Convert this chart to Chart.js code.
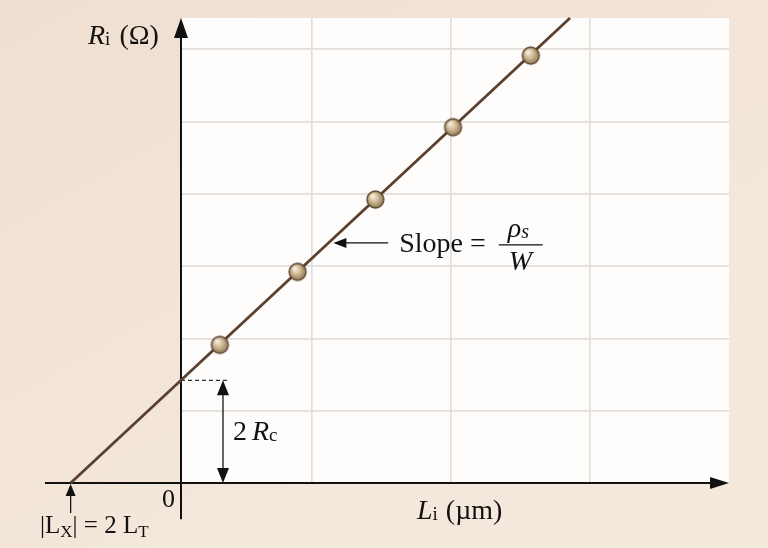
<!DOCTYPE html>
<html>
<head>
<meta charset="utf-8">
<script src="https://cdn.jsdelivr.net/npm/chart.js@4/dist/chart.umd.min.js"></script>
<style>
  html, body { margin: 0; padding: 0; background: #f2e4d7; }
  #wrap { width: 768px; height: 548px; position: relative; }
  canvas { display: block; }
</style>
</head>
<body>
<div id="wrap"><canvas id="tlm" width="768" height="548"></canvas></div>
<script>
// Transfer-length method: total resistance between pads against pad spacing
const padSpacing = [10, 30, 50, 70, 90];            // L_i (µm)
const resistance = [19.1, 29.2, 39.2, 49.2, 59.1];  // R_i (Ω)

// Straight-line fit, extended back to R = 0
const fitSpacing = [-28.4, 100.1];   // µm
const fitResistance = [0, 64.3];     // Ω

const contactTerm = 14.2;   // 2 R_c : intercept on the R axis
const transferX = -28.4;    // L_X : intercept on the L axis

// Graph-paper rulings
const gridL = [33.7, 69.4, 105.1];
const gridR = [10, 20, 30, 40, 50, 60];
const xRange = [0, 141];
const yRange = [0, 64.3];

const SERIF = '"Liberation Serif", "DejaVu Serif", serif';
const INK = '#111111';

// Shaded bead used as the marker for each measurement
function bead(r) {
  const s = 2 * r + 4;
  const c = document.createElement('canvas');
  c.width = c.height = s;
  const g = c.getContext('2d');
  const m = s / 2;
  const grd = g.createRadialGradient(m - r * 0.35, m - r * 0.45, r * 0.1, m, m, r);
  grd.addColorStop(0, '#f5ede0');
  grd.addColorStop(0.5, '#cfb993');
  grd.addColorStop(1, '#8c7651');
  g.fillStyle = grd;
  g.beginPath();
  g.arc(m, m, r, 0, Math.PI * 2);
  g.fill();
  g.lineWidth = 1.3;
  g.strokeStyle = '#5a4631';
  g.stroke();
  return c;
}

function arrowHead(ctx, x, y, dx, dy, len, half) {
  const px = -dy, py = dx;
  ctx.beginPath();
  ctx.moveTo(x, y);
  ctx.lineTo(x - dx * len + px * half, y - dy * len + py * half);
  ctx.lineTo(x - dx * len - px * half, y - dy * len - py * half);
  ctx.closePath();
  ctx.fill();
}

// Draw a sequence of text runs (for italics and subscripts) from a start point
function runs(ctx, x, y, parts) {
  ctx.textBaseline = 'alphabetic';
  ctx.textAlign = 'left';
  for (const p of parts) {
    ctx.font = (p.italic ? 'italic ' : '') + p.size + 'px ' + SERIF;
    ctx.fillText(p.t, x + (p.dx || 0), y + (p.dy || 0));
    x += ctx.measureText(p.t).width + (p.dx || 0) + (p.after || 0);
  }
  return x;
}

const backdrop = {
  id: 'backdrop',
  beforeDraw(chart) {
    const { ctx, chartArea: a, width, height } = chart;
    ctx.save();
    const bg = ctx.createLinearGradient(0, 0, width * 0.4, height);
    bg.addColorStop(0, '#f0dfd1');
    bg.addColorStop(1, '#f4e8dc');
    ctx.fillStyle = bg;
    ctx.fillRect(0, 0, width, height);
    ctx.fillStyle = '#fefdfb';
    ctx.fillRect(a.left, a.top, a.right - a.left, a.bottom - a.top);
    ctx.restore();
  }
};

const axesAndNotes = {
  id: 'axesAndNotes',
  beforeDatasetsDraw(chart) {
    const { ctx } = chart;
    const xs = chart.scales.x, ys = chart.scales.y;
    const X = v => xs.getPixelForValue(v);
    const Y = v => ys.getPixelForValue(v);
    ctx.save();
    ctx.fillStyle = INK;
    ctx.strokeStyle = INK;

    // horizontal axis
    const y0 = Y(0);
    ctx.lineWidth = 2;
    ctx.beginPath();
    ctx.moveTo(X(-35), y0);
    ctx.lineTo(X(xRange[1]) - 10, y0);
    ctx.stroke();
    arrowHead(ctx, X(xRange[1]), y0, 1, 0, 19, 6);

    // vertical axis
    const x0 = X(0);
    ctx.beginPath();
    ctx.moveTo(x0, Y(-5));
    ctx.lineTo(x0, Y(yRange[1]) + 10);
    ctx.stroke();
    arrowHead(ctx, x0, Y(yRange[1]), 0, -1, 20, 7);

    // dashed level of the intercept
    const yc = Y(contactTerm);
    const xd = X(10.8);
    ctx.lineWidth = 1.2;
    ctx.strokeStyle = '#333';
    ctx.setLineDash([4, 3]);
    ctx.beginPath();
    ctx.moveTo(x0, yc);
    ctx.lineTo(xd + 6, yc);
    ctx.stroke();
    ctx.setLineDash([]);

    // 2 R_c dimension arrow
    ctx.strokeStyle = INK;
    ctx.lineWidth = 1.3;
    ctx.beginPath();
    ctx.moveTo(xd, yc + 12);
    ctx.lineTo(xd, y0 - 12);
    ctx.stroke();
    arrowHead(ctx, xd, yc, 0, -1, 15, 6);
    arrowHead(ctx, xd, y0, 0, 1, 15, 6);

    // L_X marker arrow
    const xt = X(transferX);
    ctx.beginPath();
    ctx.moveTo(xt, y0 + 10);
    ctx.lineTo(xt, y0 + 30);
    ctx.stroke();
    arrowHead(ctx, xt, y0 + 1, 0, -1, 12, 5);

    // slope pointer
    const ys1 = Y(33.2);
    const tip = X(39.2), tail = X(53.3);
    ctx.beginPath();
    ctx.moveTo(tip + 8, ys1);
    ctx.lineTo(tail, ys1);
    ctx.stroke();
    arrowHead(ctx, tip, ys1, -1, 0, 13, 5);

    // ---- text ----
    // axis titles
    runs(ctx, 88, 44, [
      { t: 'R', italic: true, size: 28 },
      { t: 'i', size: 19, dy: 1, after: 9 },
      { t: '(Ω)', size: 28 }
    ]);
    runs(ctx, 417, 519, [
      { t: 'L', italic: true, size: 28 },
      { t: 'i', size: 19, dy: 1, after: 8 },
      { t: '(µm)', size: 28 }
    ]);
    // origin
    ctx.font = '26px ' + SERIF;
    ctx.fillText('0', x0 - 19, y0 + 24);

    // 2 R_c
    runs(ctx, xd + 10, yc + 60, [
      { t: '2', size: 28, after: 5 },
      { t: 'R', italic: true, size: 28 },
      { t: 'c', size: 19, dy: 1 }
    ]);

    // |L_X| = 2 L_T
    runs(ctx, 40, y0 + 50, [
      { t: '|L', size: 25 },
      { t: 'X', size: 17, dy: 4 },
      { t: '| = 2 L', size: 25 },
      { t: 'T', size: 17, dy: 4 }
    ]);

    // Slope = ρs / W
    const sx = runs(ctx, tail + 11, ys1 + 9, [
      { t: 'Slope = ', size: 28 }
    ]);
    const fx = sx + 6, fw = 44;
    ctx.lineWidth = 1.3;
    ctx.beginPath();
    ctx.moveTo(fx, ys1 + 2);
    ctx.lineTo(fx + fw, ys1 + 2);
    ctx.stroke();
    runs(ctx, fx + 9, ys1 - 6, [
      { t: 'ρ', italic: true, size: 28 },
      { t: 's', italic: true, size: 20, dy: 1 }
    ]);
    runs(ctx, fx + 10, ys1 + 27, [
      { t: 'W', italic: true, size: 28 }
    ]);

    ctx.restore();
  }
};

new Chart(document.getElementById('tlm'), {
  type: 'scatter',
  data: {
    datasets: [
      {
        label: 'Measured R_i',
        data: padSpacing.map((L, i) => ({ x: L, y: resistance[i] })),
        pointStyle: bead(8.5),
        pointRadius: 8.5,
        pointHoverRadius: 8.5,
        showLine: false,
        order: 0
      },
      {
        label: 'Linear fit',
        data: fitSpacing.map((L, i) => ({ x: L, y: fitResistance[i] })),
        showLine: true,
        borderColor: '#5b4030',
        borderWidth: 2.8,
        pointRadius: 0,
        pointHoverRadius: 0,
        clip: false,
        order: 1
      }
    ]
  },
  options: {
    responsive: false,
    animation: false,
    devicePixelRatio: 1,
    events: [],
    layout: { padding: { left: 181, right: 39, top: 18, bottom: 65 } },
    plugins: { legend: { display: false }, tooltip: { enabled: false } },
    scales: {
      x: {
        type: 'linear',
        min: xRange[0], max: xRange[1],
        afterBuildTicks: s => { s.ticks = gridL.map(v => ({ value: v })); },
        ticks: { display: false },
        grid: { color: '#e1dedb', lineWidth: 1.7, drawTicks: false },
        border: { display: false }
      },
      y: {
        type: 'linear',
        min: yRange[0], max: yRange[1],
        afterBuildTicks: s => { s.ticks = gridR.map(v => ({ value: v })); },
        ticks: { display: false },
        grid: { color: '#e1dedb', lineWidth: 1.7, drawTicks: false },
        border: { display: false }
      }
    }
  },
  plugins: [backdrop, axesAndNotes]
});
</script>
</body>
</html>
